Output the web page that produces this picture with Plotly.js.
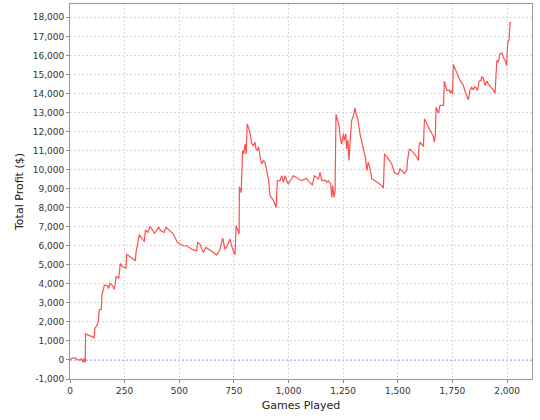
<!DOCTYPE html>
<html>
<head>
<meta charset="utf-8">
<script src="https://cdn.plot.ly/plotly-3.0.1.min.js"></script>
<style>html,body{margin:0;padding:0;background:#fff;}#chart{width:540px;height:420px;}</style>
</head>
<body>
<div id="chart"></div>
<script>
const games = [0,9,27,32,50,52,61,65,70,71,81,96,111,114,124,130,134,143,146,157,172,176,183,195,203,211,223,230,241,256,259,279,299,302,310,317,340,345,356,366,378,386,395,406,416,430,439,455,470,480,490,503,519,534,549,565,580,584,595,610,622,641,656,671,684,694,699,709,720,732,744,755,760,774,775,783,786,790,795,801,806,811,818,824,832,839,846,851,857,863,870,877,885,892,900,909,915,930,943,949,961,969,976,984,991,999,1022,1037,1060,1073,1083,1091,1098,1109,1118,1129,1137,1144,1152,1167,1175,1182,1193,1198,1202,1208,1213,1217,1225,1231,1236,1243,1251,1255,1262,1266,1271,1277,1282,1289,1297,1304,1309,1317,1327,1338,1347,1353,1358,1365,1373,1381,1396,1411,1427,1434,1439,1457,1472,1484,1495,1503,1510,1518,1530,1541,1544,1553,1571,1587,1594,1597,1602,1617,1622,1633,1648,1663,1667,1672,1675,1686,1693,1709,1713,1724,1736,1739,1747,1751,1754,1770,1785,1800,1811,1823,1830,1838,1846,1853,1865,1872,1881,1884,1892,1899,1907,1914,1922,1937,1945,1953,1960,1968,1976,1983,1991,1998,2003,2009,2014,2018];
const profit = [0,100,100,20,0,80,-130,90,-130,1385,1315,1260,1175,1670,1825,2050,2650,2650,3385,3930,3900,3750,4015,3900,3700,4370,4300,5070,4895,4825,5560,5385,5210,5650,6175,6580,6210,6825,6700,7000,6825,6650,6790,6965,6790,6700,6965,6825,6650,6450,6200,6090,6000,6000,5910,5770,5740,6175,6090,5650,5910,5740,5650,5525,5740,6175,6400,5825,6000,6350,5825,5525,7050,6615,9100,8790,9680,11000,10825,11350,10825,12400,12150,11880,11350,11260,11440,11090,11000,11200,10650,10300,10475,10390,9950,9420,8630,8400,8015,9420,9420,9680,9330,9680,9420,9245,9680,9590,9420,9500,9540,9380,9330,9190,9680,9590,9500,9860,9420,9450,9330,9420,9245,8540,9160,8540,8890,12895,12580,12315,11700,11350,11880,11530,11880,11090,11560,10475,11530,12580,12840,13245,12930,12665,11880,11260,10825,10560,9950,10390,10035,9510,9420,9280,9160,9040,10825,10560,10300,9860,9770,9770,10035,9950,9800,9980,10475,11090,10910,10650,10475,11210,11440,11210,12665,12400,12050,11735,11440,11880,13280,12960,13370,13370,14650,14160,14190,14020,14160,13985,15525,15120,14685,14420,13985,13670,14160,14330,14190,14370,14160,14650,14685,14895,14770,14420,14650,14510,14370,14190,14020,15735,15650,16090,16120,15900,15735,15470,16700,16790,17750,17700];

const xTickVals = [0,250,500,750,1000,1250,1500,1750,2000];
const xTickText = ["0","250","500","750","1,000","1,250","1,500","1,750","2,000"];
const yTickVals = [-1000,0,1000,2000,3000,4000,5000,6000,7000,8000,9000,10000,11000,12000,13000,14000,15000,16000,17000,18000];
const yTickText = ["-1,000","0","1,000","2,000","3,000","4,000","5,000","6,000","7,000","8,000","9,000","10,000","11,000","12,000","13,000","14,000","15,000","16,000","17,000","18,000"];

const tickFont = {family: "DejaVu Sans", size: 9, color: "#333"};
const titleFont = {family: "DejaVu Sans", size: 11, color: "#222"};

const data = [{
  x: games, y: profit, type: "scatter", mode: "lines",
  line: {color: "#ff4f4f", width: 1.2}, hoverinfo: "skip", showlegend: false
}];

const layout = {
  width: 540, height: 420,
  margin: {l: 70, r: 8, t: 4, b: 41},
  paper_bgcolor: "#fff", plot_bgcolor: "#fff",
  showlegend: false,
  xaxis: {
    range: [0, 2114], tickvals: xTickVals, ticktext: xTickText,
    tickfont: tickFont, ticks: "outside", ticklen: 3, tickcolor: "#888",
    showline: true, linecolor: "#999", linewidth: 1, mirror: true,
    showgrid: true, gridcolor: "#d8d8d8", griddash: "2px,2px", gridwidth: 1,
    zeroline: false, automargin: false,
    title: {text: "Games Played", font: titleFont, standoff: 6}
  },
  yaxis: {
    range: [-1000, 18700], tickvals: yTickVals, ticktext: yTickText,
    tickfont: tickFont, ticks: "outside", ticklen: 3, tickcolor: "#888",
    showline: true, linecolor: "#999", linewidth: 1, mirror: true,
    showgrid: true, gridcolor: "#d8d8d8", griddash: "2px,2px", gridwidth: 1,
    zeroline: false, automargin: false,
    title: {text: "Total Profit ($)", font: titleFont, standoff: 6}
  },
  shapes: [{
    type: "line", xref: "paper", x0: 0, x1: 1, yref: "y", y0: 0, y1: 0,
    line: {color: "#5a5aff", width: 1, dash: "2px,2px"}, layer: "below"
  }]
};

Plotly.newPlot("chart", data, layout, {staticPlot: true, displayModeBar: false});
</script>
</body>
</html>
